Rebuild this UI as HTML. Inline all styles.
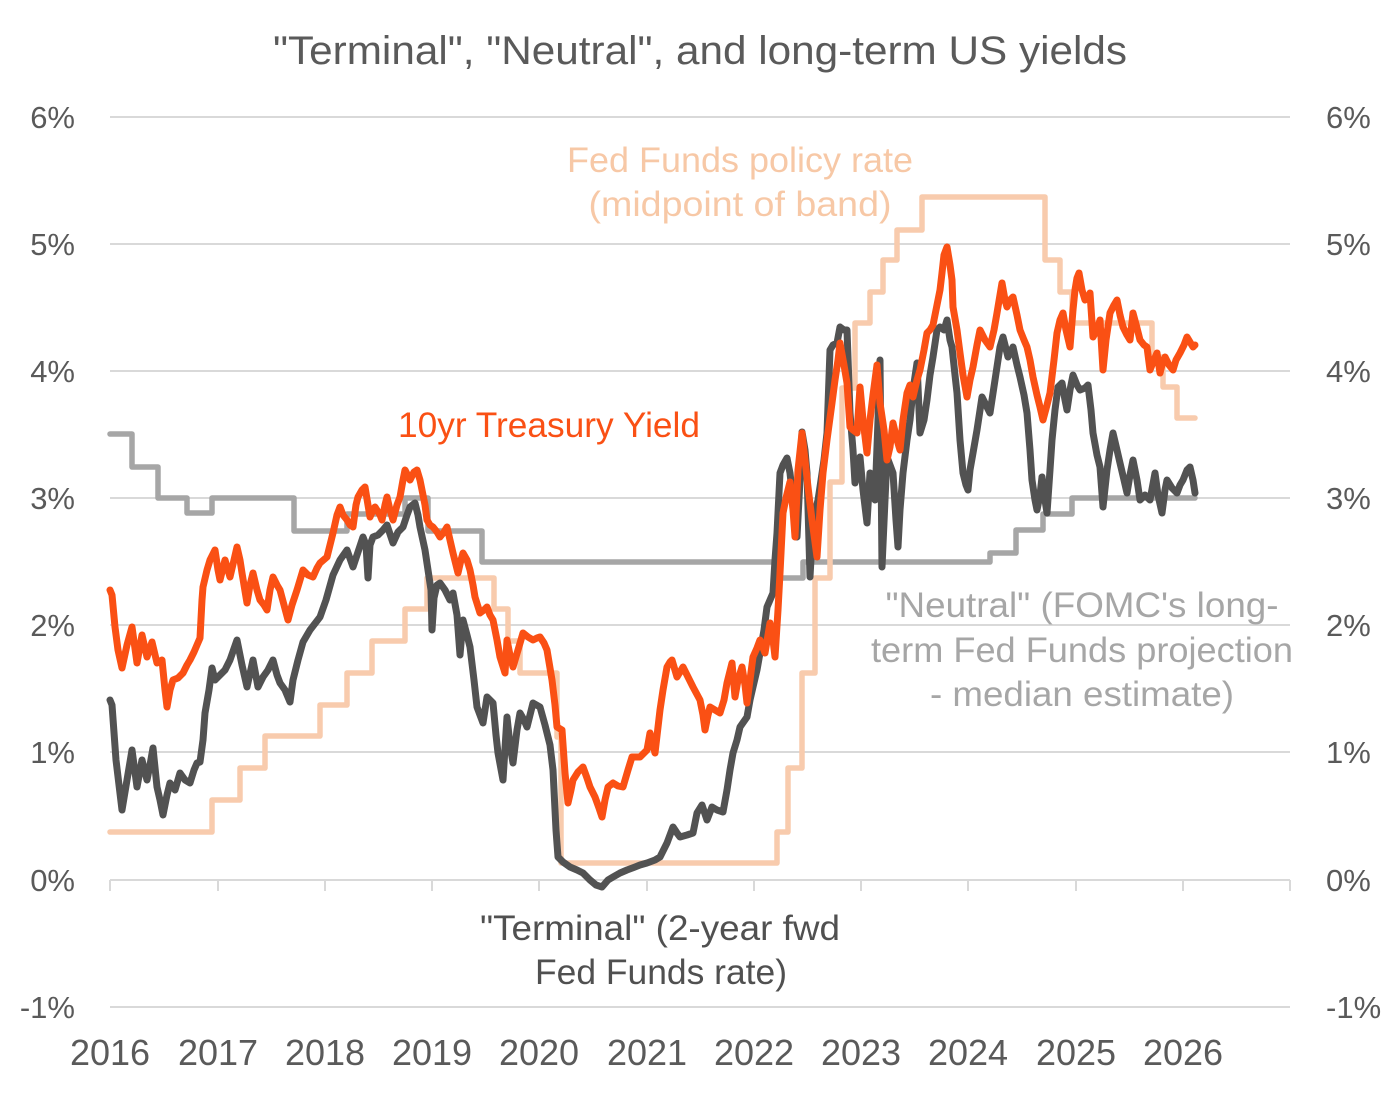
<!DOCTYPE html>
<html>
<head>
<meta charset="utf-8">
<style>
  html,body{margin:0;padding:0;background:#ffffff;}
  svg{display:block;}
  text{font-family:"Liberation Sans",Arial,sans-serif;}
</style>
</head>
<body>
<svg width="1400" height="1095" viewBox="0 0 1400 1095" xmlns="http://www.w3.org/2000/svg">
  <rect x="0" y="0" width="1400" height="1095" fill="#ffffff"/>

  <!-- Title -->
  <text x="700" y="64" font-size="40" fill="#5a5a5a" text-anchor="middle" textLength="854" lengthAdjust="spacingAndGlyphs">"Terminal", "Neutral", and long-term US yields</text>

  <!-- Gridlines -->
  <g stroke="#d9d9d9" stroke-width="2" fill="none">
    <line x1="110" y1="117" x2="1290" y2="117"/>
    <line x1="110" y1="244" x2="1290" y2="244"/>
    <line x1="110" y1="371" x2="1290" y2="371"/>
    <line x1="110" y1="498" x2="1290" y2="498"/>
    <line x1="110" y1="625" x2="1290" y2="625"/>
    <line x1="110" y1="752" x2="1290" y2="752"/>
    <line x1="110" y1="880" x2="1290" y2="880"/>
    <line x1="110" y1="1007" x2="1290" y2="1007"/>
    <!-- ticks -->
    <line x1="110" y1="880" x2="110" y2="891"/>
    <line x1="218" y1="880" x2="218" y2="891"/>
    <line x1="325" y1="880" x2="325" y2="891"/>
    <line x1="432" y1="880" x2="432" y2="891"/>
    <line x1="539" y1="880" x2="539" y2="891"/>
    <line x1="647" y1="880" x2="647" y2="891"/>
    <line x1="754" y1="880" x2="754" y2="891"/>
    <line x1="861" y1="880" x2="861" y2="891"/>
    <line x1="968" y1="880" x2="968" y2="891"/>
    <line x1="1076" y1="880" x2="1076" y2="891"/>
    <line x1="1183" y1="880" x2="1183" y2="891"/>
    <line x1="1290" y1="880" x2="1290" y2="891"/>
  </g>

  <!-- Left Y labels -->
  <g font-size="31" fill="#5a5a5a" text-anchor="end">
    <text x="75" y="128">6%</text>
    <text x="75" y="255">5%</text>
    <text x="75" y="382">4%</text>
    <text x="75" y="509">3%</text>
    <text x="75" y="636">2%</text>
    <text x="75" y="763">1%</text>
    <text x="75" y="891">0%</text>
    <text x="75" y="1018">-1%</text>
  </g>
  <!-- Right Y labels -->
  <g font-size="31" fill="#5a5a5a" text-anchor="start">
    <text x="1326" y="128">6%</text>
    <text x="1326" y="255">5%</text>
    <text x="1326" y="382">4%</text>
    <text x="1326" y="509">3%</text>
    <text x="1326" y="636">2%</text>
    <text x="1326" y="763">1%</text>
    <text x="1326" y="891">0%</text>
    <text x="1326" y="1018">-1%</text>
  </g>

  <!-- X labels -->
  <g font-size="36" fill="#5a5a5a" text-anchor="middle">
    <text x="110" y="1065">2016</text>
    <text x="218" y="1065">2017</text>
    <text x="325" y="1065">2018</text>
    <text x="432" y="1065">2019</text>
    <text x="539" y="1065">2020</text>
    <text x="647" y="1065">2021</text>
    <text x="754" y="1065">2022</text>
    <text x="861" y="1065">2023</text>
    <text x="968" y="1065">2024</text>
    <text x="1076" y="1065">2025</text>
    <text x="1183" y="1065">2026</text>
  </g>

  <!-- Neutral (gray step) -->
  <polyline fill="none" stroke="#a6a6a6" stroke-width="5.5" stroke-linejoin="round" stroke-linecap="round"
    points="110,434 132,434 132,467 158,467 158,498 187,498 187,513 212,513 212,498 294,498 294,531 347,531 347,514 405,514 405,498 428,498 428,531 482,531 482,562 775,562 775,578 803,578 803,562 990,562 990,553 1016,553 1016,530 1043,530 1043,514 1072,514 1072,498 1195,498"/>

  <!-- Fed funds (peach step) -->
  <polyline fill="none" stroke="#f8cbad" stroke-width="5.5" stroke-linejoin="round" stroke-linecap="round"
    points="110,832 212,832 212,800 240,800 240,768 265,768 265,736 320,736 320,705 347,705 347,673 372,673 372,641 405,641 405,609 427,609 427,578 494,578 494,609 508,609 508,641 520,641 520,673 557,673 557,737 561,737 561,863 777,863 777,832 788,832 788,768 802,768 802,673 815,673 815,578 830,578 830,482 842,482 842,388 855,388 855,323 870,323 870,292 883,292 883,260 897,260 897,230 922,230 922,197 1045,197 1045,260 1060,260 1060,292 1072,292 1072,323 1152,323 1152,357 1163,357 1163,387 1177,387 1177,418 1195,418"/>

  <!-- Terminal (dark) -->
  <polyline fill="none" stroke="#525252" stroke-width="7" stroke-linejoin="round" stroke-linecap="round"
    points="110,700 112,705 116,760 122,810 127,780 132,750 137,787 142,760 147,780 150,765 153,748 157,787 160,800 163,815 167,795 170,783 175,790 180,773 185,780 190,783 194,770 197,763 200,762 203,740 205,713 209,690 212,668 215,680 220,675 225,670 230,660 237,640 242,665 247,687 253,660 258,687 263,677 268,670 273,660 277,675 280,683 285,690 290,702 293,680 298,660 303,642 310,630 320,617 326,600 333,575 340,560 347,550 353,567 358,552 363,537 366,545 368,578 370,545 373,537 378,535 383,530 387,525 393,543 398,532 403,527 407,515 410,507 415,503 418,515 420,527 425,550 428,570 431,590 432,630 434,598 437,585 440,583 445,590 450,600 453,593 457,615 460,655 463,620 467,635 470,647 474,680 477,707 483,723 487,697 493,703 496,735 498,753 503,780 507,717 510,745 513,763 517,730 520,713 524,720 527,727 533,703 540,707 545,725 550,745 553,770 556,830 558,857 563,862 570,867 577,870 583,873 590,880 596,885 602,887 608,880 613,877 620,873 627,870 635,867 640,865 647,863 655,860 660,857 667,843 673,827 677,833 680,837 687,835 693,833 697,813 702,805 707,820 712,807 717,810 723,812 727,790 730,770 733,753 737,740 740,727 747,717 750,700 753,687 757,670 760,653 764,630 767,607 770,600 773,593 775,560 777,533 780,473 783,465 787,458 790,473 793,500 797,537 800,480 802,432 805,450 807,473 810,577 812,540 815,513 818,500 820,487 824,460 827,433 830,350 833,345 837,343 840,327 844,330 847,330 850,413 853,450 855,483 858,470 860,457 863,490 867,523 870,473 873,490 875,500 878,420 880,360 882,567 885,500 887,457 890,465 893,473 896,520 898,547 900,510 903,473 907,440 910,420 913,390 917,363 920,433 924,420 927,400 930,375 933,357 937,330 940,327 944,330 947,320 950,340 952,347 955,375 957,393 960,440 963,473 966,485 968,490 970,470 973,453 977,430 982,397 986,405 990,413 995,380 1000,347 1003,337 1008,357 1013,347 1017,365 1020,377 1024,395 1027,413 1030,450 1032,480 1035,500 1037,510 1040,495 1042,477 1045,500 1047,513 1050,470 1052,440 1055,410 1058,387 1062,383 1065,400 1067,410 1070,390 1073,375 1077,385 1080,390 1085,388 1088,385 1091,410 1093,433 1097,455 1100,467 1103,507 1107,470 1110,450 1113,433 1117,450 1120,463 1124,480 1127,493 1130,475 1133,460 1137,480 1140,500 1145,495 1150,500 1155,473 1158,495 1162,513 1165,490 1167,480 1172,488 1177,493 1180,485 1183,480 1187,470 1190,467 1193,480 1195,493"/>

  <!-- 10yr Treasury (orange) -->
  <polyline fill="none" stroke="#fa5014" stroke-width="7" stroke-linejoin="round" stroke-linecap="round"
    points="110,590 112,595 115,627 118,650 122,668 127,645 132,627 137,663 142,635 147,657 152,642 157,663 162,660 165,690 167,707 170,690 173,680 178,678 183,673 187,665 190,660 194,652 197,645 200,638 202,600 203,587 207,570 210,560 215,550 218,570 220,580 225,560 230,577 234,560 237,547 240,560 242,573 247,603 250,585 253,573 257,590 260,600 264,605 267,610 270,590 273,577 277,585 280,590 284,605 288,620 292,605 297,590 300,580 303,570 308,575 313,577 317,568 320,563 327,557 330,545 333,533 337,515 340,507 343,515 347,520 350,525 353,527 356,505 358,497 362,490 365,487 368,505 370,517 373,510 375,507 380,515 382,520 385,505 387,497 390,510 393,520 397,505 400,497 403,480 405,470 408,476 410,480 414,472 417,470 420,480 422,490 425,505 427,520 430,525 433,527 437,532 440,537 444,532 447,527 450,540 453,553 458,573 461,560 463,553 467,560 470,570 473,585 475,597 480,613 484,610 487,607 490,615 493,620 497,640 500,657 505,673 507,640 510,655 513,667 518,650 523,633 528,637 533,640 537,638 540,637 544,643 547,650 552,680 555,705 557,727 562,730 565,773 568,803 571,790 573,780 578,772 583,767 587,778 590,787 595,797 599,808 602,817 605,800 608,787 613,783 618,786 623,787 628,770 632,757 636,757 640,757 645,752 647,750 650,733 655,753 660,710 663,690 667,667 670,662 672,660 677,677 680,672 683,667 688,677 693,687 700,700 703,715 705,730 708,715 710,707 715,710 720,713 724,700 727,683 732,663 735,697 738,680 742,667 745,685 747,703 750,680 753,657 757,648 760,640 765,653 770,623 773,640 775,657 778,610 780,573 783,513 786,498 790,482 793,510 795,537 798,470 802,433 805,460 808,487 812,520 817,557 820,510 823,473 827,440 832,403 835,380 838,360 840,343 844,365 847,383 850,427 853,430 857,433 860,387 863,420 867,453 870,420 873,395 877,365 880,403 884,430 887,460 890,447 893,423 897,440 900,450 903,420 907,393 910,385 913,397 917,380 920,370 924,350 927,333 930,330 933,325 936,310 938,300 940,290 942,273 944,255 947,247 950,265 952,280 953,307 957,330 960,353 963,375 967,397 970,380 973,367 977,345 980,330 985,340 990,347 994,330 997,313 1000,295 1002,283 1005,300 1007,307 1010,300 1013,297 1017,315 1020,330 1024,340 1027,347 1030,360 1033,377 1037,395 1040,407 1043,420 1047,405 1050,393 1054,360 1057,333 1060,320 1063,313 1066,330 1070,347 1073,310 1075,290 1077,278 1079,273 1082,290 1085,300 1088,298 1090,293 1093,337 1097,330 1100,320 1103,370 1106,340 1110,313 1114,305 1117,300 1120,315 1123,327 1127,335 1130,340 1133,313 1137,328 1140,340 1144,345 1147,347 1150,370 1154,360 1157,353 1160,373 1162,365 1165,357 1169,365 1173,370 1176,360 1180,353 1184,345 1187,337 1190,342 1193,347 1195,345"/>

  <!-- Annotations -->
  <g font-size="35" text-anchor="middle">
    <text x="740" y="172" fill="#f7c8a6" textLength="346" lengthAdjust="spacingAndGlyphs">Fed Funds policy rate</text>
    <text x="740" y="216" fill="#f7c8a6" textLength="303" lengthAdjust="spacingAndGlyphs">(midpoint of band)</text>
    <text x="549" y="437" fill="#fa5014" textLength="302" lengthAdjust="spacingAndGlyphs">10yr Treasury Yield</text>
    <text x="1082" y="617" fill="#a6a6a6" textLength="393" lengthAdjust="spacingAndGlyphs">"Neutral" (FOMC's long-</text>
    <text x="1082" y="662" fill="#a6a6a6" textLength="422" lengthAdjust="spacingAndGlyphs">term Fed Funds projection</text>
    <text x="1082" y="706" fill="#a6a6a6" textLength="304" lengthAdjust="spacingAndGlyphs">- median estimate)</text>
    <text x="660" y="940" fill="#505050" textLength="360" lengthAdjust="spacingAndGlyphs">"Terminal" (2-year fwd</text>
    <text x="661" y="984" fill="#505050" textLength="252" lengthAdjust="spacingAndGlyphs">Fed Funds rate)</text>
  </g>
</svg>
</body>
</html>
